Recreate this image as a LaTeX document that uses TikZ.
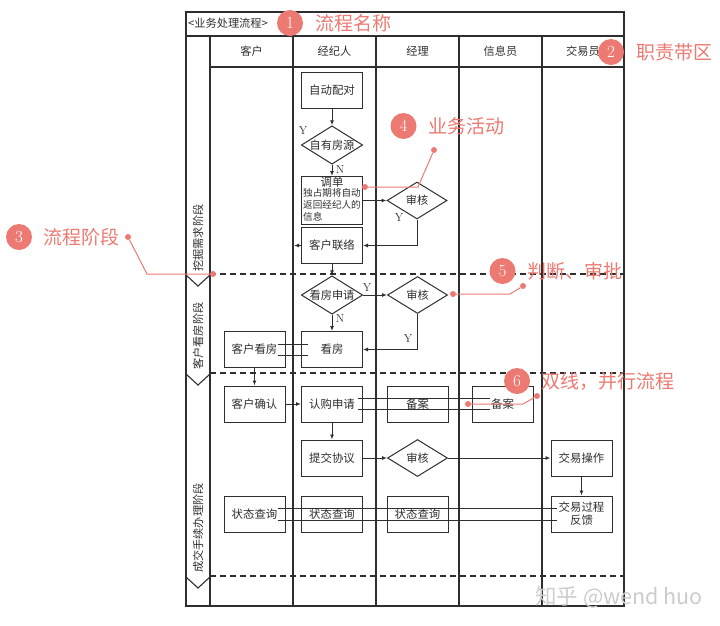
\documentclass[tikz,border=0pt]{standalone}
\usepackage{fontspec}
\newfontfamily\cjk{Noto Sans CJK SC}
\usetikzlibrary{shapes.geometric,arrows.meta}
\definecolor{ink}{HTML}{2E2E2E}
\definecolor{coral}{HTML}{EC7A72}
\definecolor{wmgray}{HTML}{CCCCCC}

\begin{document}
\begin{tikzpicture}[x=1pt,y=-1pt,
  frame/.style={draw=ink,line width=1.1pt},
  lbl/.style={font=\cjk\fontsize{11.2}{12}\selectfont,text=ink,inner sep=0},
  yn/.style={font=\fontsize{11.5}{12}\selectfont,text=ink,inner sep=0},
  stepbox/.style={draw=ink,line width=1pt,minimum width=61pt,minimum height=36pt,
    inner sep=1pt,font=\cjk\fontsize{11.4}{13}\selectfont,text=ink},
  decide/.style={diamond,draw=ink,line width=1pt,minimum width=60pt,minimum height=37pt,
    inner sep=0,aspect=1.6,font=\cjk\fontsize{11.2}{12}\selectfont,text=ink},
  flow/.style={draw=ink,line width=1pt,-{Latex[length=5pt,width=4pt]}},
  twin/.style={draw=ink,line width=1pt},
  stageline/.style={draw=ink,line width=1.1pt,dash pattern=on 6pt off 4pt},
  note/.style={font=\cjk\fontsize{19}{22}\selectfont,text=coral,anchor=west,inner sep=0},
  badge/.style={circle,fill=coral,minimum size=26pt,inner sep=0,text=white,
    font=\fontsize{17}{20}\selectfont},
  lead/.style={draw=coral,line width=1pt},
  pin/.style={circle,fill=coral,minimum size=6pt,inner sep=0}
]
\useasboundingbox (0,0) rectangle (720,625);

% outer frame, title row, header row and lanes
\draw[frame] (186,12) rectangle (624,606);
\draw[frame] (186,36) -- (624,36);
\draw[frame] (210,36) -- (210,606);
\draw[frame] (210,67) -- (624,67);
\foreach \x in {293,376,459,542} \draw[frame] (\x,36) -- (\x,606);

% stage separators with chevrons in the stage column
\foreach \y in {274,373,576} {
  \draw[frame] (186,{\y+1}) -- (198,{\y+12}) -- (210,{\y+1});
  \draw[stageline] (210,\y) -- (624,\y);
}

% title and lane headers
\node[lbl,anchor=west] (title) at (188,23) {<业务处理流程>};
\node[lbl] (h1) at (251.5,51) {客户};
\node[lbl] (h2) at (334.5,51) {经纪人};
\node[lbl] (h3) at (417.5,51) {经理};
\node[lbl] (h4) at (500.5,51) {信息员};
\node[lbl] (h5) at (583,51) {交易员};

% stage names
\node[lbl,rotate=90] (s1) at (198,238) {挖掘需求阶段};
\node[lbl,rotate=90] (s2) at (198,336) {客户看房阶段};
\node[lbl,rotate=90] (s3) at (198,528) {成交手续办理阶段};

% activities and decisions
\node[stepbox] (match) at (332,90) {自动配对};
\node[decide] (own) at (332,145) {自有房源};
\node[stepbox,minimum height=46pt,inner sep=0] (transfer) at (332,200.5) {%
  \renewcommand\arraystretch{0.92}%
  \begin{tabular}{@{}l@{}}
  \multicolumn{1}{@{}c@{}}{调单}\\[-1pt]
  \fontsize{9.6}{10.5}\selectfont 独占期将自动\\
  \fontsize{9.6}{10.5}\selectfont 返回经纪人的\\
  \fontsize{9.6}{10.5}\selectfont 信息
  \end{tabular}};
\node[decide] (chk1) at (417,200.5) {审核};
\node[stepbox] (contact) at (332,245.5) {客户联络};
\node[decide] (viewreq) at (332,295) {看房申请};
\node[decide] (chk2) at (417.5,295) {审核};
\node[stepbox] (view) at (332,349.5) {看房};
\node[stepbox] (cview) at (254.5,349.5) {客户看房};
\node[stepbox] (cconfirm) at (254.5,404) {客户确认};
\node[stepbox] (apply) at (332,404) {认购申请};
\node[stepbox] (rec1) at (417.5,404) {备案};
\node[stepbox] (rec2) at (502.5,404) {备案};
\node[stepbox] (submit) at (332,458) {提交协议};
\node[decide] (chk3) at (417.5,458) {审核};
\node[stepbox] (trade) at (581.5,458) {交易操作};
\node[stepbox,align=center] (feedback) at (581.5,514) {交易过程\\反馈};
\node[stepbox] (q1) at (254.5,514) {状态查询};
\node[stepbox] (q2) at (332,514) {状态查询};
\node[stepbox] (q3) at (417.5,514) {状态查询};

% branch labels
\node[yn] (ownY) at (303,131) {Y};
\node[yn] (ownN) at (340,170) {N};
\node[yn] (chk1Y) at (399,218) {Y};
\node[yn] (reqY) at (367,288) {Y};
\node[yn] (reqN) at (340,319) {N};
\node[yn] (chk2Y) at (408,339) {Y};

% connectors
\coordinate (toClient) at (294,245.5);
\draw[flow] (match) -- (own);
\draw[flow] (own) -- (transfer);
\draw[flow] (transfer) -- (chk1);
\draw[flow] (chk1.south) |- (contact.east);
\draw[flow] (contact.west) -- (toClient);
\draw[flow] (contact) -- (viewreq);
\draw[flow] (viewreq) -- (chk2);
\draw[flow] (viewreq) -- (view);
\draw[flow] (chk2.south) |- (view.east);
\draw[flow] (cview) -- (cconfirm);
\draw[flow] (cconfirm) -- (apply);
\draw[flow] (apply) -- (submit);
\draw[flow] (submit) -- (chk3);
\draw[flow] (chk3) -- (trade);
\draw[flow] (trade) -- (feedback);

% parallel (double-line) links
\foreach \s in {5.5,-5.5} {
  \draw[twin] ([xshift=-8pt,yshift=\s pt]cview.east) -- ([xshift=7pt,yshift=\s pt]view.west);
  \draw[twin] ([xshift=-5pt,yshift=\s pt]apply.east) -- ([xshift=18pt,yshift=\s pt]rec2.west);
}
\foreach \s in {6,-6}
  \draw[twin] ([xshift=-8pt,yshift=\s pt]q1.east) -- ([xshift=6pt,yshift=\s pt]feedback.west);

% callouts
\node[badge] (b1) at (290,23) {1};
\node[note] (n1) at (315,23) {流程名称};
\node[badge] (b2) at (611,52) {2};
\node[note] (n2) at (636,52) {职责带区};
\node[badge] (b3) at (19,237) {3};
\node[note] (n3) at (43,237) {流程阶段};
\node[badge] (b4) at (403.5,126) {4};
\node[note] (n4) at (428,126) {业务活动};
\node[badge] (b5) at (502.5,271) {5};
\node[note] (n5) at (527,271) {判断、审批};
\node[badge] (b6) at (517,381) {6};
\node[note] (n6) at (541,381) {双线，并行流程};

\node[pin] (p3a) at (128,237) {};
\node[pin] (p3b) at (213,274) {};
\coordinate (k3) at (147,274);
\draw[lead] (p3a) -- (k3) -- (p3b);
\node[pin] (p4a) at (434,150) {};
\node[pin] (p4b) at (365,187) {};
\coordinate (k4) at (418,187);
\draw[lead] (p4a) -- (k4) -- (p4b);
\node[pin] (p5a) at (523,286) {};
\node[pin] (p5b) at (453,294) {};
\coordinate (k5) at (510,294);
\draw[lead] (p5a) -- (k5) -- (p5b);
\node[pin] (p6a) at (537,396) {};
\node[pin] (p6b) at (468,404) {};
\coordinate (k6) at (523,404);
\draw[lead] (p6a) -- (k6) -- (p6b);

% watermark
\node[font=\cjk\fontsize{21.5}{23}\selectfont,text=wmgray,anchor=west,inner sep=0] (wm) at (535,597) {知乎 @wend huo};
\end{tikzpicture}
\end{document}
